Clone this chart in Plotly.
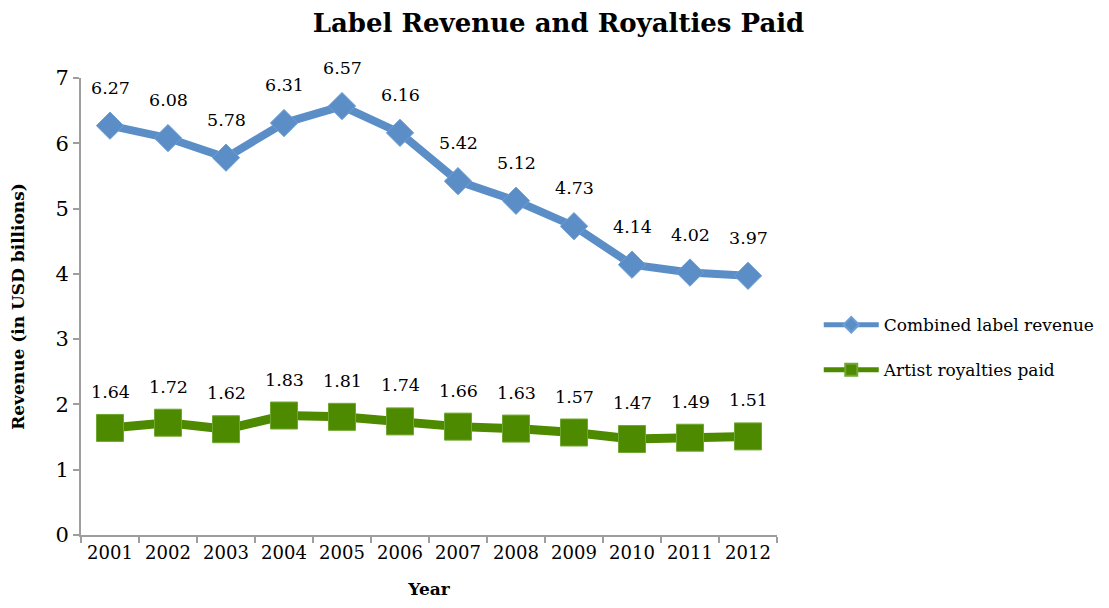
import plotly.graph_objects as go

years = ["2001", "2002", "2003", "2004", "2005", "2006", "2007", "2008", "2009", "2010", "2011", "2012"]
combined_revenue = [6.27, 6.08, 5.78, 6.31, 6.57, 6.16, 5.42, 5.12, 4.73, 4.14, 4.02, 3.97]
royalties_paid = [1.64, 1.72, 1.62, 1.83, 1.81, 1.74, 1.66, 1.63, 1.57, 1.47, 1.49, 1.51]
y_ticks = [0, 1, 2, 3, 4, 5, 6, 7]

FONT = "DejaVu Serif"
BLUE = "#5B8EC7"
GREEN = "#4E8A00"

fig = go.Figure()
fig.add_trace(go.Scatter(
    x=years, y=combined_revenue, name="Combined label revenue",
    mode="lines+markers", legendgroup="a",
    line=dict(color=BLUE, width=8),
    marker=dict(symbol="diamond", size=21, color=BLUE, line=dict(color="#6E9ED3", width=1)),
))
fig.add_trace(go.Scatter(
    x=years, y=royalties_paid, name="Artist royalties paid",
    mode="lines+markers", legendgroup="b",
    line=dict(color=GREEN, width=9),
    marker=dict(symbol="square", size=27, color=GREEN, line=dict(color="#6FA830", width=1)),
))

# category axes place annotations by category index
annotations = []
for i, v in enumerate(combined_revenue):
    annotations.append(dict(x=i, y=v, xref="x", yref="y", text=f"{v:.2f}", showarrow=False, yshift=38,
                            font=dict(family=FONT, size=17.5, color="#000")))
for i, v in enumerate(royalties_paid):
    annotations.append(dict(x=i, y=v, xref="x", yref="y", text=f"{v:.2f}", showarrow=False, yshift=36,
                            font=dict(family=FONT, size=17.5, color="#000")))

fig.update_layout(
    width=1101, height=600,
    paper_bgcolor="white", plot_bgcolor="white",
    margin=dict(l=73, r=332, t=70, b=73, autoexpand=False),
    title=dict(text="<b>Label Revenue and Royalties Paid</b>", x=0.5, xanchor="center",
               y=0.975, yanchor="middle", font=dict(family=FONT, size=26, color="#000")),
    font=dict(family=FONT, color="#000"),
    annotations=annotations,
    showlegend=True,
    legend=dict(x=1.06, y=0.41, xanchor="left", yanchor="middle",
                font=dict(family=FONT, size=17, color="#000"),
                tracegroupgap=20, itemwidth=55, itemsizing="constant", bgcolor="rgba(0,0,0,0)"),
    xaxis=dict(
        type="category", showgrid=False, showline=True, linecolor="#9E9E9E", linewidth=2,
        ticks="outside", tickson="boundaries", ticklen=6, tickcolor="#9E9E9E", tickwidth=2,
        tickfont=dict(family=FONT, size=18, color="#000"),
        title=dict(text="<b>Year</b>", font=dict(family=FONT, size=17, color="#000"), standoff=22),
        range=[-0.5, 11.5],
    ),
    yaxis=dict(
        range=[0, 7], tickvals=y_ticks, showgrid=False, zeroline=False,
        showline=True, linecolor="#9E9E9E", linewidth=2,
        ticks="outside", ticklen=6, tickcolor="#9E9E9E", tickwidth=2,
        tickfont=dict(family=FONT, size=21, color="#000"),
        title=dict(text="<b>Revenue (in USD billions)</b>", font=dict(family=FONT, size=17, color="#000"), standoff=29),
    ),
)

fig.write_html("out.html")
